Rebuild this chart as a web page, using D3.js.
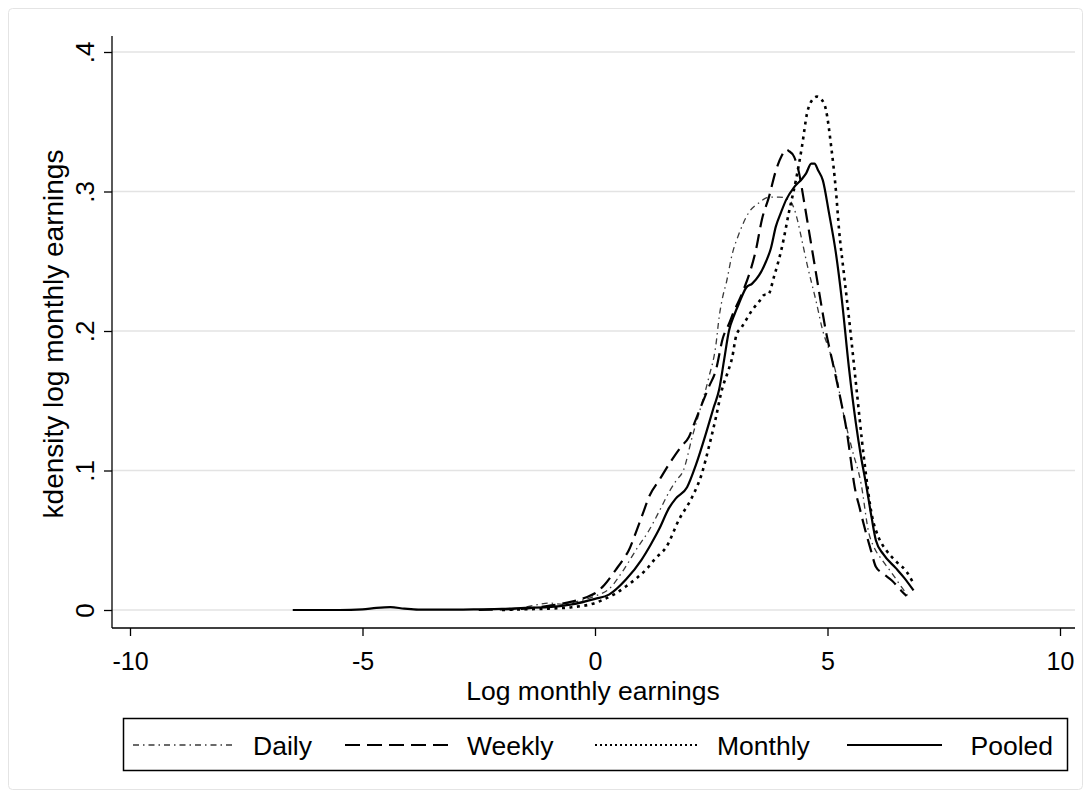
<!DOCTYPE html>
<html>
<head>
<meta charset="utf-8">
<script src="https://cdn.jsdelivr.net/npm/d3@7"></script>
<style>
  html, body { margin: 0; padding: 0; background: #fff; }
  svg { display: block; font-family: Arial, "Liberation Sans", sans-serif; }
</style>
</head>
<body>
<svg id="chart" width="1091" height="798"></svg>
<script>
// ---- data ----
const xTicks = [-10, -5, 0, 5, 10];
const yTicks = [0, 0.1, 0.2, 0.3, 0.4];
const yTickLabels = ["0", ".1", ".2", ".3", ".4"];
const seriesNames = ["Daily", "Weekly", "Monthly", "Pooled"];

const dailyX = [-1.8,-1.5,-1.2,-1,-0.7,-0.4,0,0.3,0.62,0.9,1.16,1.4,1.6,1.75,1.9,2.09,2.28,2.45,2.6,2.67,2.75,2.82,2.95,3.1,3.31,3.53,3.74,3.96,4.17,4.28,4.35,4.45,4.56,4.75,4.9,5.05,5.18,5.31,5.53,5.72,5.89,6.0,6.17,6.35,6.54,6.75];
const dailyY = [0,0.002,0.004,0.005,0.004,0.006,0.010,0.015,0.029,0.044,0.057,0.072,0.085,0.093,0.100,0.124,0.146,0.167,0.190,0.210,0.225,0.234,0.255,0.270,0.285,0.292,0.296,0.296,0.294,0.288,0.280,0.265,0.248,0.222,0.200,0.185,0.170,0.146,0.115,0.091,0.055,0.045,0.036,0.028,0.019,0.009];

const weeklyX = [-2.5,-2,-1.5,-1,-0.5,-0.2,0,0.2,0.45,0.6,0.73,0.85,0.95,1.06,1.16,1.38,1.66,1.85,2.02,2.15,2.28,2.45,2.6,2.75,2.88,3.0,3.1,3.2,3.31,3.46,3.59,3.74,3.89,4.02,4.1,4.17,4.28,4.39,4.49,4.6,4.71,4.85,4.97,5.08,5.18,5.3,5.4,5.5,5.57,5.7,5.83,5.94,6.04,6.2,6.39,6.58,6.7];
const weeklyY = [0,0.0005,0.001,0.003,0.006,0.009,0.012,0.018,0.029,0.036,0.043,0.053,0.062,0.072,0.081,0.093,0.108,0.117,0.124,0.135,0.146,0.160,0.172,0.195,0.205,0.215,0.222,0.230,0.240,0.258,0.280,0.296,0.315,0.326,0.330,0.329,0.325,0.313,0.294,0.272,0.250,0.222,0.199,0.182,0.167,0.148,0.131,0.108,0.091,0.072,0.055,0.042,0.031,0.026,0.021,0.014,0.010];

const monthlyX = [-2,-1.5,-1,-0.5,0,0.15,0.4,0.67,0.9,1.1,1.3,1.53,1.81,2.09,2.3,2.45,2.6,2.73,2.85,2.95,3.04,3.16,3.38,3.55,3.65,3.72,3.85,4.02,4.17,4.32,4.45,4.56,4.68,4.77,4.87,4.97,5.08,5.18,5.25,5.35,5.46,5.61,5.78,5.96,6.1,6.26,6.5,6.69,6.85];
const monthlyY = [0,0.0005,0.001,0.002,0.005,0.007,0.011,0.017,0.023,0.029,0.037,0.045,0.065,0.081,0.098,0.117,0.138,0.158,0.170,0.181,0.197,0.203,0.215,0.222,0.226,0.226,0.239,0.260,0.285,0.308,0.332,0.356,0.366,0.368,0.366,0.358,0.332,0.301,0.272,0.242,0.210,0.163,0.110,0.067,0.052,0.043,0.034,0.028,0.019];

const pooledX = [-6.5,-6,-5.5,-5,-4.7,-4.4,-4.1,-3.8,-3,-2.5,-2,-1.5,-1,-0.5,0,0.3,0.67,1.0,1.2,1.38,1.59,1.74,1.98,2.17,2.39,2.55,2.67,2.78,2.88,3.0,3.1,3.25,3.38,3.53,3.68,3.78,3.89,4.0,4.11,4.28,4.45,4.54,4.65,4.72,4.8,4.9,5.03,5.18,5.31,5.46,5.61,5.72,5.83,5.95,6.04,6.2,6.47,6.65,6.85];
const pooledY = [0,0,0,0.0005,0.0015,0.002,0.001,0.0003,0.0003,0.0005,0.0008,0.0015,0.002,0.004,0.008,0.011,0.022,0.036,0.047,0.058,0.073,0.080,0.088,0.104,0.127,0.145,0.158,0.180,0.200,0.212,0.220,0.231,0.234,0.240,0.250,0.259,0.275,0.285,0.294,0.303,0.309,0.313,0.320,0.320,0.315,0.308,0.285,0.256,0.222,0.174,0.134,0.110,0.090,0.066,0.050,0.040,0.030,0.023,0.014];

// ---- layout ----
const svg = d3.select("#chart");
const W = 1091, H = 798;
const x = d3.scaleLinear().domain([-10, 10]).range([130, 1060]);
const y = d3.scaleLinear().domain([0, 0.4]).range([610, 52]);
const plotLeft = 112, plotRight = 1075, plotTop = 36, plotBottom = 628;

// outer faint frame
svg.append("rect").attr("x", 8.5).attr("y", 8.5).attr("width", W - 17).attr("height", H - 17)
  .attr("rx", 4).attr("fill", "#fff").attr("stroke", "#e4e4e4").attr("stroke-width", 1);

// gridlines
svg.append("g").selectAll("line").data(yTicks).join("line")
  .attr("x1", plotLeft).attr("x2", plotRight)
  .attr("y1", d => y(d)).attr("y2", d => y(d))
  .attr("stroke", "#e3e3e3").attr("stroke-width", 1.6);

// axes
const yAxis = d3.axisLeft(y).tickValues(yTicks).tickSize(8).tickPadding(10)
  .tickFormat((d, i) => yTickLabels[i]);
const gy = svg.append("g").attr("transform", `translate(${plotLeft},0)`).call(yAxis);
gy.select(".domain").remove();
gy.append("line").attr("x1", 0).attr("x2", 0).attr("y1", plotTop).attr("y2", plotBottom)
  .attr("stroke", "#000").attr("stroke-width", 1.3);
gy.selectAll(".tick line").attr("stroke", "#000").attr("stroke-width", 1.3);
gy.selectAll(".tick text")
  .attr("font-size", 26).attr("fill", "#000")
  .attr("text-anchor", "middle")
  .attr("x", 0).attr("dy", 0)
  .attr("transform", "translate(-18,0) rotate(-90)");

const xAxis = d3.axisBottom(x).tickValues(xTicks).tickSize(8).tickPadding(8).tickFormat(d3.format("d"));
const gx = svg.append("g").attr("transform", `translate(0,${plotBottom})`).call(xAxis);
gx.select(".domain").remove();
gx.append("line").attr("x1", plotLeft).attr("x2", plotRight).attr("y1", 0).attr("y2", 0)
  .attr("stroke", "#000").attr("stroke-width", 1.3);
gx.selectAll(".tick line").attr("stroke", "#000").attr("stroke-width", 1.3);
gx.selectAll(".tick text").attr("font-size", 25).attr("fill", "#000")
  .attr("y", 42).attr("dy", 0)
  .text(d => d < 0 ? "-" + Math.abs(d) : String(d));

// axis titles
svg.append("text").attr("x", 593).attr("y", 700).attr("text-anchor", "middle")
  .attr("font-size", 26.5).attr("fill", "#000").text("Log monthly earnings");
svg.append("text").attr("transform", "translate(63,334) rotate(-90)").attr("text-anchor", "middle")
  .attr("font-size", 28).attr("fill", "#000").text("kdensity log monthly earnings");

// series
const styles = {
  Daily:   { dash: "6,4,1.5,4", width: 1.3, color: "#3a3a3a" },
  Weekly:  { dash: "14,7", width: 2.2, color: "#000" },
  Monthly: { dash: "3,4.5", width: 2.6, color: "#000" },
  Pooled:  { dash: null, width: 2.2, color: "#000" }
};
const seriesData = {
  Daily: dailyX.map((v, i) => [v, dailyY[i]]),
  Weekly: weeklyX.map((v, i) => [v, weeklyY[i]]),
  Monthly: monthlyX.map((v, i) => [v, monthlyY[i]]),
  Pooled: pooledX.map((v, i) => [v, pooledY[i]])
};
const line = d3.line().x(d => x(d[0])).y(d => y(d[1])).curve(d3.curveMonotoneX);
seriesNames.forEach(name => {
  const s = styles[name];
  svg.append("path").datum(seriesData[name])
    .attr("d", line).attr("fill", "none")
    .attr("stroke", s.color).attr("stroke-width", s.width)
    .attr("stroke-dasharray", s.dash)
    .attr("stroke-linejoin", "round");
});

// legend
svg.append("rect").attr("x", 123.5).attr("y", 718.5).attr("width", 944).attr("height", 52)
  .attr("fill", "#fff").attr("stroke", "#000").attr("stroke-width", 1.5);
const legendItems = [
  { name: "Daily", x1: 133, x2: 232, tx: 253, anchor: "start", dash: "6,4,1.5,4", w: 1.3 },
  { name: "Weekly", x1: 345, x2: 450, tx: 467, anchor: "start", dash: "15,7", w: 2.2 },
  { name: "Monthly", x1: 595, x2: 700, tx: 717, anchor: "start", dash: "2,3", w: 1.8 },
  { name: "Pooled", x1: 847, x2: 942, tx: 1053, anchor: "end", dash: null, w: 2.2 }
];
legendItems.forEach(it => {
  const s = styles[it.name];
  svg.append("line").attr("x1", it.x1).attr("x2", it.x2).attr("y1", 745).attr("y2", 745)
    .attr("stroke", s.color).attr("stroke-width", it.w)
    .attr("stroke-dasharray", it.dash);
  svg.append("text").attr("x", it.tx).attr("y", 755).attr("text-anchor", it.anchor)
    .attr("font-size", 26.5).attr("fill", "#000").text(it.name);
});
</script>
</body>
</html>
